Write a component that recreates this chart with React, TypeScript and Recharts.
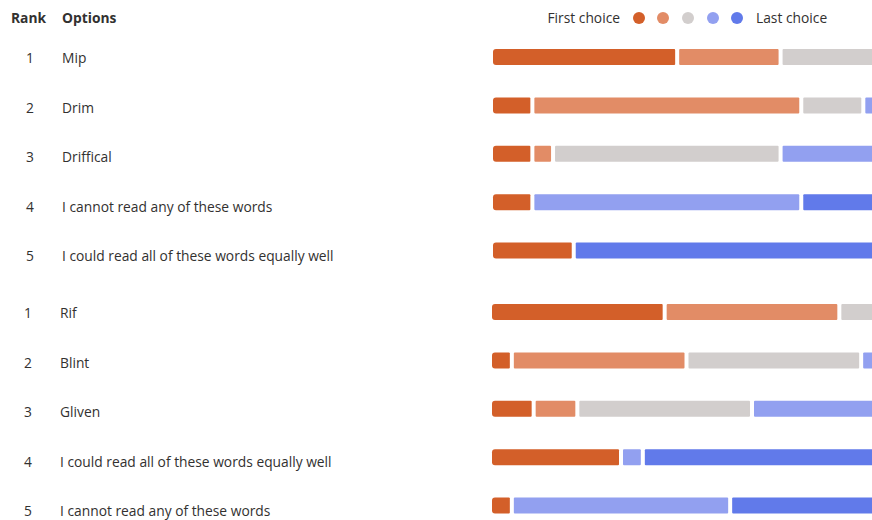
import React from "react";
import { Bar, BarChart, XAxis, YAxis } from "recharts";

// first group of options
const optionsA = ["Mip", "Drim", "Driffical", "I cannot read any of these words", "I could read all of these words equally well"];
const firstA = [9, 2, 2, 2, 4];
const secondA = [5, 13, 1, 0, 0];
const thirdA = [5, 3, 11, 0, 0];
const fourthA = [0, 1, 5, 13, 0];
const fifthA = [0, 0, 0, 4, 15];

// second group of options
const optionsB = ["Rif", "Blint", "Gliven", "I could read all of these words equally well", "I cannot read any of these words"];
const firstB = [8, 1, 2, 6, 1];
const secondB = [8, 8, 2, 0, 0];
const thirdB = [2, 8, 8, 0, 0];
const fourthB = [0, 1, 6, 1, 10];
const fifthB = [0, 0, 0, 11, 7];

const rankKeys = ["r1", "r2", "r3", "r4", "r5"];
const rankColors = ["#D35F29", "#E28C66", "#D2CECD", "#92A0F0", "#617AEA"];
const dotCenters = [639, 663, 688, 713, 737];
const TEXT = "#323130";
const FONT = "'Open Sans', 'Noto Sans', sans-serif";
const FS = 13.8;

function buildRows(options: string[], cols: number[][]) {
  return options.map((option, i) => ({
    option,
    r1: cols[0][i],
    r2: cols[1][i],
    r3: cols[2][i],
    r4: cols[3][i],
    r5: cols[4][i],
  }));
}

function segPath(x: number, y: number, w: number, h: number, rl: number, rr: number) {
  return `M${x + rl},${y} H${x + w - rr} Q${x + w},${y} ${x + w},${y + rr} V${y + h - rr} Q${x + w},${y + h} ${x + w - rr},${y + h} H${x + rl} Q${x},${y + h} ${x},${y + h - rl} V${y + rl} Q${x},${y} ${x + rl},${y} Z`;
}

function makeShape(idx: number) {
  return (props: any) => {
    const { x, y, width, height, fill } = props;
    const w = width - 4;
    if (!(w > 0)) return <g />;
    const rl = idx === 0 ? 3 : 1;
    const rr = idx === 4 ? 3 : 1;
    return <path d={segPath(x, y, w, height, rl, rr)} fill={fill} />;
  };
}

function RankChart({ rows, total, left, labelShift }: { rows: any[]; total: number; left: number; labelShift: number }) {
  const Tick = (props: any) => {
    const { y, payload, index } = props;
    // the label rows sit on a slightly taller pitch than the bars
    const ty = y + 0.3 + index * 1.2;
    return (
      <g fontFamily={FONT} fontSize={FS} fill={TEXT}>
        <text x={30 - labelShift} y={ty} textAnchor="middle" dominantBaseline="central">
          {index + 1}
        </text>
        <text x={62 - labelShift} y={ty} dominantBaseline="central">
          {payload.value}
        </text>
      </g>
    );
  };
  return (
    <BarChart width={left + 393} height={242} data={rows} layout="vertical" margin={{ top: 0, right: 0, bottom: 0, left: 0 }}>
      <XAxis type="number" domain={[0, total]} hide />
      <YAxis type="category" dataKey="option" width={left} axisLine={false} tickLine={false} tick={<Tick />} interval={0} />
      {rankKeys.map((k, i) => (
        <Bar key={k} dataKey={k} stackId="a" fill={rankColors[i]} barSize={16} shape={makeShape(i)} isAnimationActive={false} />
      ))}
    </BarChart>
  );
}

export default function App() {
  const rowsA = buildRows(optionsA, [firstA, secondA, thirdA, fourthA, fifthA]);
  const rowsB = buildRows(optionsB, [firstB, secondB, thirdB, fourthB, fifthB]);
  const head: React.CSSProperties = { position: "absolute", top: 18, transform: "translateY(-50%)", fontSize: FS, lineHeight: "18px", whiteSpace: "nowrap" };
  return (
    <div style={{ position: "fixed", left: 0, top: 0, width: 872, height: 520, overflow: "hidden", background: "#fff", fontFamily: FONT, color: TEXT }}>
      <div style={{ ...head, left: 11, fontWeight: 700 }}>Rank</div>
      <div style={{ ...head, left: 62, fontWeight: 700 }}>Options</div>
      <div style={{ ...head, right: 872 - 620 }}>First choice</div>
      {rankColors.map((c, i) => (
        <span
          key={c}
          style={{ position: "absolute", left: dotCenters[i] - 6, top: 12, width: 12, height: 12, borderRadius: 6, background: c }}
        />
      ))}
      <div style={{ ...head, left: 756 }}>Last choice</div>
      <div style={{ position: "absolute", left: 0, top: 33 }}>
        <RankChart rows={rowsA} total={19} left={493} labelShift={0} />
      </div>
      <div style={{ position: "absolute", left: 0, top: 288 }}>
        <RankChart rows={rowsB} total={18} left={492} labelShift={2} />
      </div>
    </div>
  );
}
